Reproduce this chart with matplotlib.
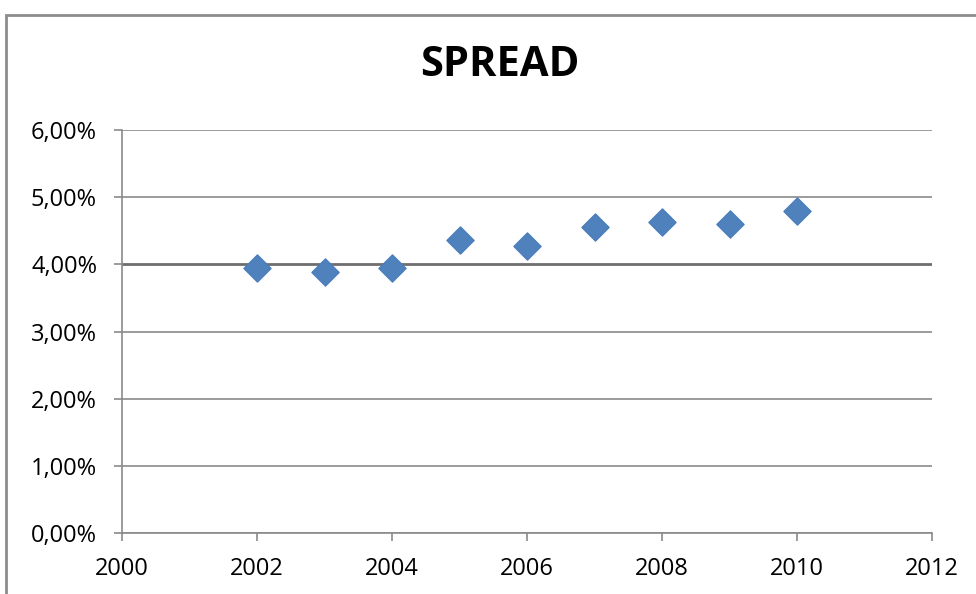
import matplotlib.pyplot as plt
from matplotlib.ticker import FuncFormatter, MultipleLocator
from matplotlib.patches import Rectangle

# spread per year (fraction)
years = [2002, 2003, 2004, 2005, 2006, 2007, 2008, 2009, 2010]
spread = [0.0395, 0.0389, 0.0395, 0.0436, 0.0427, 0.0455, 0.0463, 0.0460, 0.0479]

plt.rcParams['font.family'] = ['Open Sans', 'DejaVu Sans']

fig = plt.figure(figsize=(9.76, 5.94), dpi=100)
ax = fig.add_axes([122/976, 1 - 533/594, (932 - 122)/976, (533 - 130)/594])

# outer chart frame (cut off at right/bottom like the screenshot)
fig.patches.append(Rectangle((6/976, -0.05), 1.2, 1 - 15/594 + 0.05, transform=fig.transFigure,
                             fill=False, edgecolor='#8c8c8c', linewidth=2))

ax.scatter(years, spread, marker='D', s=190, color='#4F81BD', edgecolors='#4A7EBB', zorder=3)

ax.set_xlim(2000, 2012)
ax.set_ylim(0, 0.06)
ax.xaxis.set_major_locator(MultipleLocator(2))
ax.yaxis.set_major_locator(MultipleLocator(0.01))
ax.yaxis.set_major_formatter(FuncFormatter(lambda v, p: ('%.2f%%' % (v*100)).replace('.', ',')))

ax.grid(axis='y', color='#8a8a8a', linewidth=1.2)
ax.set_axisbelow(True)
for line, val in zip(ax.get_ygridlines(), ax.get_yticks()):
    if abs(val - 0.04) < 1e-9:
        line.set_color('#6e6e6e')
        line.set_linewidth(2)

for s in ['top', 'right']:
    ax.spines[s].set_visible(False)
for s in ['left', 'bottom']:
    ax.spines[s].set_color('#8a8a8a')
    ax.spines[s].set_linewidth(1.2)

ax.tick_params(axis='both', colors='#8a8a8a', labelcolor='black', labelsize=17, length=6, width=1.2)
ax.tick_params(axis='x', pad=11)
ax.tick_params(axis='y', pad=12)

fig.text(500/976, 1 - 66/594, 'SPREAD', ha='center', va='center', fontsize=30, fontweight='bold')

fig.savefig('out.png', dpi=100)
